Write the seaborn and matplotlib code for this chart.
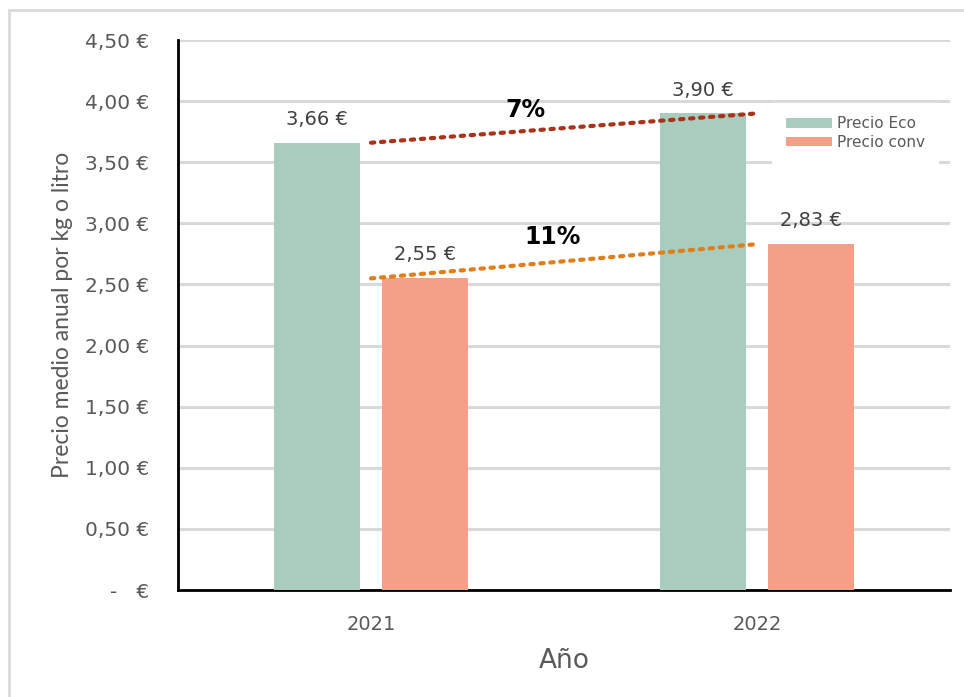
import numpy as np
import pandas as pd
import seaborn as sns
import matplotlib.pyplot as plt
from matplotlib.patches import Rectangle

# data
years = ["2021", "2022"]
precio_eco = [3.66, 3.90]
precio_conv = [2.55, 2.83]
series = ["Precio Eco", "Precio conv"]
pct_eco = "7%"
pct_conv = "11%"
yticks = [0, 0.5, 1.0, 1.5, 2.0, 2.5, 3.0, 3.5, 4.0, 4.5]

df = pd.DataFrame({
    "Año": years * 2,
    "precio": precio_eco + precio_conv,
    "serie": [series[0]] * len(years) + [series[1]] * len(years),
})

sns.set_theme(style="white")
plt.rcParams["font.family"] = ["DejaVu Sans"]

gray = "#595959"
colors = {"Precio Eco": "#a8cdbf", "Precio conv": "#f4a088"}

fig = plt.figure(figsize=(9.64, 6.97), dpi=100)
fig.patches.append(Rectangle((0.009, -0.01), 1.1, 0.996, transform=fig.transFigure,
                             fill=False, edgecolor="#d9d9d9", linewidth=2))
ax = fig.add_axes([0.1846, 0.1535, 0.801, 0.789])

sns.barplot(data=df, x="Año", y="precio", hue="serie", palette=colors,
            width=0.56, gap=0.2, ax=ax, zorder=3, saturation=1,
            linewidth=0, edgecolor="none")

# grid
ax.set_yticks(yticks)
ax.yaxis.grid(True, color="#d9d9d9", linewidth=2.2, zorder=0)
ax.set_axisbelow(True)
ax.set_ylim(0, 4.5)
ax.set_xlim(-0.5, 1.5)

def euro(v):
    if v == 0:
        return "-   €"
    return ("%.2f €" % v).replace(".", ",")

ax.set_yticklabels([euro(v) for v in yticks], color=gray, fontsize=14.5)
ax.tick_params(axis="x", labelsize=14, labelcolor=gray, pad=18, length=0)
ax.tick_params(axis="y", pad=21, length=0)

for s in ["top", "right"]:
    ax.spines[s].set_visible(False)
for s in ["left", "bottom"]:
    ax.spines[s].set_color("black")
    ax.spines[s].set_linewidth(2)

ax.set_xlabel("Año", fontsize=19, color=gray, labelpad=10)
ax.set_ylabel("Precio medio anual por kg o litro", fontsize=16.5, color=gray,
              labelpad=8, family=["Lato", "DejaVu Sans"])

# value labels
for cont in ax.containers:
    ax.bar_label(cont, labels=[euro(v) for v in cont.datavalues], padding=10,
                 fontsize=14, color="#404040")

# trend lines
xs = np.arange(len(years))
ax.plot(xs, precio_eco, color="#a8321a", linestyle=(0, (0.8, 1.6)), linewidth=3,
        dash_capstyle="round", zorder=4)
ax.plot(xs, precio_conv, color="#e07f1a", linestyle=(0, (0.8, 1.6)), linewidth=3,
        dash_capstyle="round", zorder=4)
ax.text(0.4, np.mean(precio_eco) + 0.15, pct_eco, fontsize=17, fontweight="bold",
        color="black", ha="center", va="center", zorder=5)
ax.text(0.47, np.mean(precio_conv) + 0.20, pct_conv, fontsize=17, fontweight="bold",
        color="black", ha="center", va="center", zorder=5)

leg = ax.legend(loc="upper left", bbox_to_anchor=(0.76, 0.90), frameon=True,
                fancybox=False, fontsize=11, handlelength=3.0, handleheight=0.55,
                borderpad=0.9, labelspacing=0.2, handletextpad=0.3)
leg.get_frame().set_edgecolor("white")
leg.get_frame().set_facecolor("white")
leg.get_frame().set_alpha(1)
leg.set_zorder(6)
for t in leg.get_texts():
    t.set_color(gray)

fig.savefig("out.png", dpi=100)
